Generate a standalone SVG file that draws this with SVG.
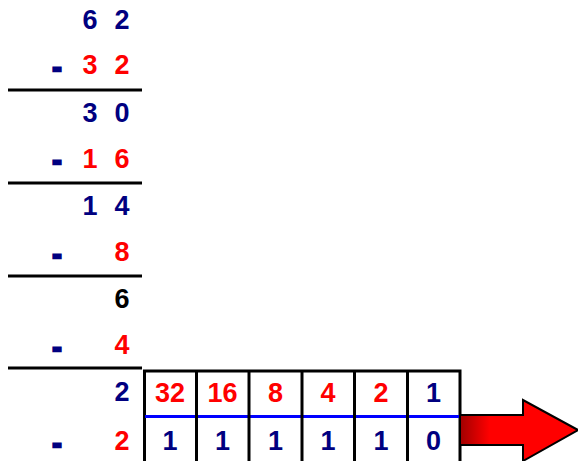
<svg xmlns="http://www.w3.org/2000/svg" width="578" height="461" viewBox="0 0 578 461">
<defs>
<style>
text{font-family:"Liberation Sans",Arial,sans-serif;font-weight:bold;font-size:27px;text-anchor:middle}
.n{fill:#000080}.r{fill:#ff0000}.k{fill:#000}
.d{fill:#000080;stroke:#000080;stroke-width:2.5}
.rule{stroke:#000;stroke-width:3}
.cell{fill:#fff;stroke:#000;stroke-width:3}
</style>
<linearGradient id="sh" x1="0" y1="0" x2="1" y2="0">
<stop offset="0" stop-color="#a00000"/><stop offset="0.25" stop-color="#ff0000"/><stop offset="1" stop-color="#ff0000"/>
</linearGradient>
</defs>
<rect width="578" height="461" fill="#fff"/>
<g id="subtraction">
<text class="n" x="90" y="29">6</text><text class="n" x="122" y="29">2</text>
<text class="d" x="57" y="77">-</text><text class="r" x="90" y="74">3</text><text class="r" x="122" y="74">2</text>
<line class="rule" x1="8" y1="90" x2="142" y2="90"/>
<text class="n" x="90" y="122">3</text><text class="n" x="122" y="122">0</text>
<text class="d" x="57" y="170">-</text><text class="r" x="90" y="168">1</text><text class="r" x="122" y="168">6</text>
<line class="rule" x1="8" y1="183" x2="142" y2="183"/>
<text class="n" x="90" y="215">1</text><text class="n" x="122" y="215">4</text>
<text class="d" x="57" y="264">-</text><text class="r" x="122" y="261">8</text>
<line class="rule" x1="8" y1="276" x2="142" y2="276"/>
<text class="k" x="122" y="308">6</text>
<text class="d" x="57" y="357">-</text><text class="r" x="122" y="354">4</text>
<line class="rule" x1="8" y1="368" x2="142" y2="368"/>
<text class="n" x="122" y="401">2</text>
<text class="d" x="57" y="453">-</text><text class="r" x="122" y="450">2</text>
</g>
<g id="table">
<rect class="cell" x="144.5" y="371" width="315.5" height="92"/>
<line x1="145" y1="416.5" x2="459" y2="416.5" stroke="#0000ff" stroke-width="3"/>
<g stroke="#000" stroke-width="3">
<line x1="196.5" y1="371" x2="196.5" y2="461"/>
<line x1="249" y1="371" x2="249" y2="461"/>
<line x1="302" y1="371" x2="302" y2="461"/>
<line x1="354.5" y1="371" x2="354.5" y2="461"/>
<line x1="407.5" y1="371" x2="407.5" y2="461"/>
</g>
<text class="r" x="170" y="402">32</text>
<text class="r" x="222.5" y="402">16</text>
<text class="r" x="275.5" y="402">8</text>
<text class="r" x="328" y="402">4</text>
<text class="r" x="381" y="402">2</text>
<text class="n" x="433.5" y="402">1</text>
<text class="n" x="170" y="450">1</text>
<text class="n" x="222.5" y="450">1</text>
<text class="n" x="275.5" y="450">1</text>
<text class="n" x="328" y="450">1</text>
<text class="n" x="381" y="450">1</text>
<text class="n" x="433.5" y="450">0</text>
</g>
<g id="connectors">
<path d="M460,415 L523,415 L523,400 L578,430 L523,461 L523,445 L460,445 Z" fill="url(#sh)" stroke="#000" stroke-width="2"/>
</g>
</svg>
